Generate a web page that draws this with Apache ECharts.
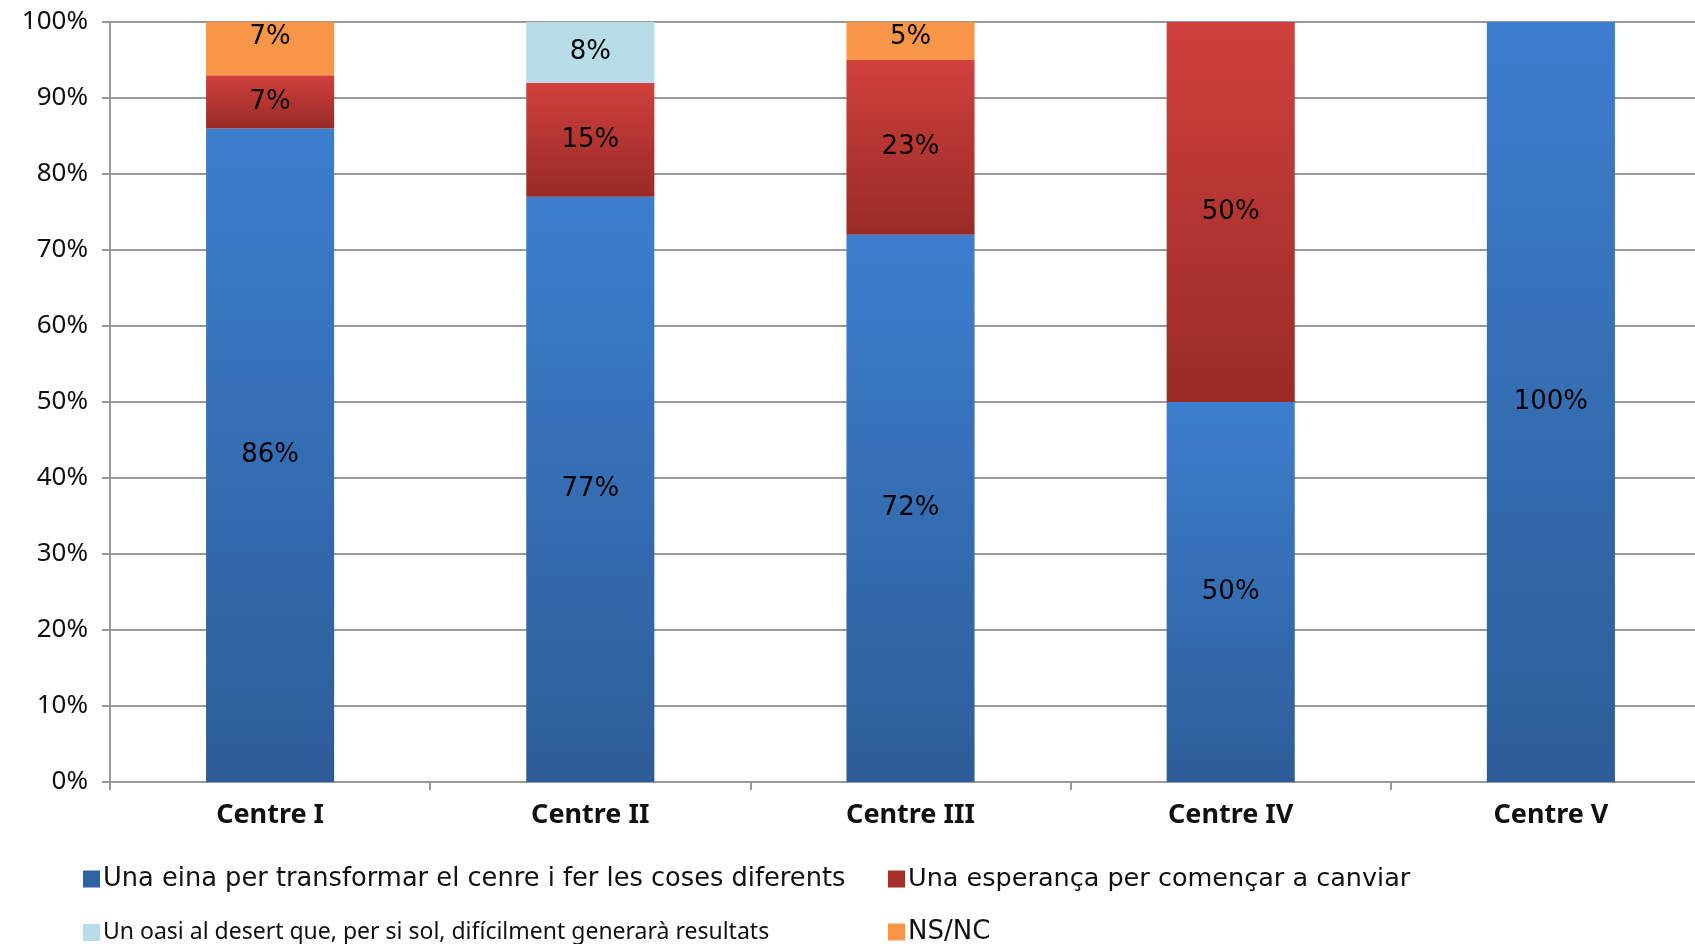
<!DOCTYPE html>
<html>
<head>
<meta charset="utf-8">
<script src="https://cdn.jsdelivr.net/npm/echarts@6/dist/echarts.min.js"></script>
<style>
html,body{margin:0;padding:0;background:#fff;}
#chart{width:1695px;height:944px;}
</style>
</head>
<body>
<div id="chart"></div>
<script>
const categories = ['Centre I', 'Centre II', 'Centre III', 'Centre IV', 'Centre V'];
const seriesNames = [
  'Una eina per transformar el cenre i fer les coses diferents',
  'Una esperança per començar a canviar',
  'Un oasi al desert que, per si sol, difícilment generarà resultats',
  'NS/NC'
];
const eina = [86, 77, 72, 50, 100];
const esperanca = [7, 15, 23, 50, 0];
const oasi = [0, 8, 0, 0, 0];
const nsnc = [7, 0, 5, 0, 0];
const yTicks = [0, 10, 20, 30, 40, 50, 60, 70, 80, 90, 100];

const FONT = '"Noto Sans", "Open Sans", sans-serif';
const WIDE = '"DejaVu Sans", sans-serif';
function grad(top, bottom) {
  return new echarts.graphic.LinearGradient(0, 0, 0, 1, [
    {offset: 0, color: top}, {offset: 1, color: bottom}
  ]);
}
const fills = [
  grad('#3C7ECE', '#2D5D98'),
  grad('#D0403C', '#982B27'),
  '#B7DDE8',
  '#F79646'
];
const legendIcons = ['#2F62A3', '#A52F2B', '#B7DDE8', '#F79646'];
const values = [eina, esperanca, oasi, nsnc];

const series = values.map((arr, i) => ({
  name: seriesNames[i],
  type: 'bar',
  stack: 'total',
  barWidth: '40%',
  data: arr,
  itemStyle: { color: fills[i] },
  label: {
    show: true,
    position: i === 3 ? 'insideTop' : 'inside',
    distance: 2,
    color: '#000',
    fontSize: 26,
    fontFamily: WIDE,
    formatter: p => p.value > 0 ? p.value + '%' : ''
  },
  emphasis: { disabled: true }
}));

const legendPos = [
  {left: 78, top: 861, font: WIDE, size: 25.7},
  {left: 883, top: 861, font: WIDE, size: 25.5},
  {left: 78, top: 916, font: FONT, size: 23},
  {left: 883, top: 914, font: WIDE, size: 26}
];
const legends = seriesNames.map((n, i) => ({
  data: [{name: n, itemStyle: {color: legendIcons[i]}}],
  left: legendPos[i].left,
  top: legendPos[i].top,
  icon: 'rect',
  itemWidth: 17,
  itemHeight: 17,
  itemGap: 4,
  selectedMode: false,
  textStyle: {
    fontFamily: legendPos[i].font,
    fontSize: legendPos[i].size,
    color: '#111',
    padding: [0, 0, 0, -2]
  }
}));

const chart = echarts.init(document.getElementById('chart'));
chart.setOption({
  animation: false,
  backgroundColor: '#fff',
  legend: legends,
  grid: { left: 110, top: 22, width: 1601, bottom: 162, containLabel: false, outerBoundsMode: 'none' },
  xAxis: {
    type: 'category',
    data: categories,
    axisLine: { lineStyle: { color: '#999', width: 2 } },
    axisTick: { show: true, length: 8, lineStyle: { color: '#999', width: 2 } },
    axisLabel: { fontFamily: FONT, fontSize: 27, fontWeight: 'bold', color: '#111', margin: 20 }
  },
  yAxis: {
    type: 'value',
    min: yTicks[0],
    max: yTicks[yTicks.length - 1],
    interval: 10,
    axisLine: { show: true, lineStyle: { color: '#999', width: 2 } },
    axisTick: { show: true, length: 8, lineStyle: { color: '#999', width: 2 } },
    splitLine: { lineStyle: { color: '#999', width: 2 } },
    axisLabel: { fontFamily: FONT, fontSize: 26, color: '#111', margin: 22, formatter: v => v + '%' }
  },
  series: series
});
</script>
</body>
</html>
